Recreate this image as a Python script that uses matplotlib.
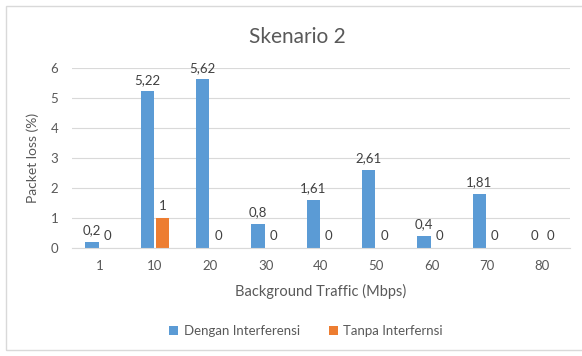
import matplotlib.pyplot as plt
import numpy as np
from matplotlib.patches import Rectangle

categories = ["1", "10", "20", "30", "40", "50", "60", "70", "80"]
dengan = [0.2, 5.22, 5.62, 0.8, 1.61, 2.61, 0.4, 1.81, 0]
tanpa = [0, 1, 0, 0, 0, 0, 0, 0, 0]

blue = "#5b9bd5"
orange = "#ed7d31"
txt = "#595959"

plt.rcParams["font.family"] = ["Lato", "DejaVu Sans"]

fig = plt.figure(figsize=(5.82, 3.56), dpi=100)
# light frame round the chart area
fig.patches.append(Rectangle((6 / 582, 6 / 356), 1.2, 344 / 356, transform=fig.transFigure,
                             fill=False, edgecolor="#d9d9d9", linewidth=1))

ax = fig.add_axes([72 / 582, 108 / 356, 498 / 582, 180 / 356])
x = np.arange(len(categories))
w = 0.24
b1 = ax.bar(x - w / 2 - 0.02, dengan, w, color=blue, label="Dengan Interferensi")
b2 = ax.bar(x + w / 2 + 0.02, tanpa, w, color=orange, label="Tanpa Interfernsi")

def fmt(v):
    return f"{v:g}".replace(".", ",")

for bars, vals in ((b1, dengan), (b2, tanpa)):
    for r, v in zip(bars, vals):
        ax.annotate(fmt(v), (r.get_x() + r.get_width() / 2, v), xytext=(0, 4),
                    textcoords="offset points", ha="center", va="bottom",
                    fontsize=9.5, color="#404040")

ax.set_xlim(-0.5, len(categories) - 0.5)
ax.set_ylim(0, 6)
ax.set_yticks(range(7))
ax.set_xticks(x)
ax.set_xticklabels(categories)
ax.grid(axis="y", color="#d9d9d9", linewidth=0.8)
ax.set_axisbelow(True)
for s in ("top", "right", "left"):
    ax.spines[s].set_visible(False)
ax.spines["bottom"].set_color("#d9d9d9")
ax.tick_params(length=0, colors=txt, labelsize=9.5)
ax.tick_params(axis="x", pad=9)
ax.tick_params(axis="y", pad=10)

ax.set_xlabel("Background Traffic (Mbps)", color=txt, fontsize=10.5, labelpad=8)
ax.set_ylabel("Packet loss (%)", color=txt, fontsize=10, labelpad=8)
fig.text(0.5 + 6 / 582, 1 - 37 / 356, "Skenario 2", ha="center", va="center",
         fontsize=15, color=txt)

fig.legend(handles=[b1, b2], loc="center", bbox_to_anchor=(306 / 582, 1 - 331 / 356),
           ncol=2, frameon=False, fontsize=9.5, labelcolor=txt,
           handlelength=0.7, handleheight=0.7, columnspacing=2.2, handletextpad=0.4)

fig.savefig("out.png", dpi=100)
